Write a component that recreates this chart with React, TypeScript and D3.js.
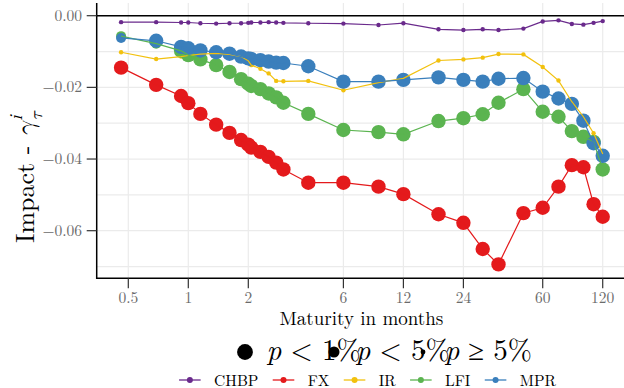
import React from 'react';
import * as d3 from 'd3';

// maturity in months (2w ... 12w, then months)
const maturities = [0.46, 0.69, 0.92, 1, 1.15, 1.38, 1.61, 1.84, 2, 2.07, 2.3, 2.53, 2.76, 3, 4, 6, 9, 12, 18, 24, 30, 36, 48, 60, 72, 84, 96, 108, 120];

const seriesNames = ['CHBP', 'FX', 'IR', 'LFI', 'MPR'];
const seriesColors = ['#6A2A8C', '#E41A1C', '#F2C10E', '#5BB450', '#3A7FBC'];

const chbp = [-0.0018, -0.0018, -0.0019, -0.0019, -0.0021, -0.0022, -0.0021, -0.0021, -0.0020, -0.0019, -0.0019, -0.0018, -0.0019, -0.0020, -0.0021, -0.0022, -0.0026, -0.0021, -0.0038, -0.0040, -0.0038, -0.0040, -0.0036, -0.0016, -0.0013, -0.0023, -0.0025, -0.0020, -0.0015];
const fx = [-0.0145, -0.0193, -0.0224, -0.0244, -0.0274, -0.0304, -0.0327, -0.0347, -0.0360, -0.0368, -0.0380, -0.0394, -0.0410, -0.0429, -0.0466, -0.0466, -0.0477, -0.0498, -0.0554, -0.0578, -0.0651, -0.0694, -0.0551, -0.0536, -0.0477, -0.0417, -0.0423, -0.0526, -0.0561];
const ir = [-0.0102, -0.0121, -0.0114, -0.0111, -0.0107, -0.0105, -0.0108, -0.0114, -0.0126, -0.0138, -0.0148, -0.0161, -0.0182, -0.0183, -0.0182, -0.0208, -0.0187, -0.0175, -0.0125, -0.0122, -0.0117, -0.0107, -0.0108, -0.0143, -0.0181, -0.0240, -0.0282, -0.0328, -0.0386];
const lfi = [-0.0057, -0.0078, -0.0098, -0.0110, -0.0122, -0.0138, -0.0157, -0.0177, -0.0190, -0.0196, -0.0205, -0.0217, -0.0228, -0.0243, -0.0274, -0.0319, -0.0325, -0.0331, -0.0294, -0.0286, -0.0275, -0.0243, -0.0205, -0.0268, -0.0282, -0.0322, -0.0338, -0.0352, -0.0429];
const mpr = [-0.0062, -0.0070, -0.0087, -0.0091, -0.0097, -0.0102, -0.0106, -0.0114, -0.0119, -0.0121, -0.0124, -0.0128, -0.0131, -0.0132, -0.0141, -0.0184, -0.0184, -0.0179, -0.0172, -0.0179, -0.0184, -0.0176, -0.0174, -0.0212, -0.0231, -0.0246, -0.0293, -0.0356, -0.0391];

// significance: '1' = p<1%, '5' = p<5%, 'n' = p>=5%
const sigChbp = 'nnnnnnnnnnnnnnnnnnnnnnnnnnnnn'.split('');
const sigFx = '11111111111111111111111111111'.split('');
const sigIr = 'nnnnnnnnnnnnnnnnnnnnnnnnnnnnn'.split('');
const sigLfi = '55111111111111111111111111111'.split('');
const sigMpr = '51111111111111111111111111111'.split('');

const xTicks = [0.5, 1, 2, 6, 12, 24, 60, 120];
const yTicks = [0, -0.02, -0.04, -0.06];
const yMinor = [-0.01, -0.03, -0.05, -0.07];

const sigLevels = ['1', '5', 'n'];
const sigRel = ['<', '<', '\u2265'];
const sigPct = ['1%', '5%', '5%'];

const FONT = "'Latin Modern Roman', 'Liberation Serif', serif";
const MATH = "'Latin Modern Math', 'Latin Modern Roman', 'Liberation Serif', serif";

function textWidth(txt: string, size: number) {
  const c = document.createElement('canvas').getContext('2d');
  if (!c) return txt.length * size * 0.6;
  c.font = `${size}px ${FONT}`;
  return c.measureText(txt).width;
}

export default function App() {
  const panel = { left: 96.7, right: 626, top: 3, bottom: 278.3 };

  const x = d3.scaleLog().base(2).domain([0.5, 120]).range([128.3, 188.3 + 60 * Math.log2(120)]);
  const y = d3.scaleLinear().domain([0, -0.06]).range([15.7, 230.7]);
  const r = d3.scaleOrdinal<string, number>().domain(sigLevels).range([7.2, 5, 2.2]);

  const values = [chbp, fx, ir, lfi, mpr];
  const sigs = [sigChbp, sigFx, sigIr, sigLfi, sigMpr];
  const series = seriesNames.map((name, i) => ({
    name,
    color: seriesColors[i],
    points: maturities.map((m, j) => ({ m, v: values[i][j], s: sigs[i][j] })),
  }));

  const line = d3.line<{ m: number; v: number }>()
    .x(d => x(d.m))
    .y(d => y(d.v));

  const fmtY = d3.format('.2f');

  // series legend layout
  const legSize = 15.5;
  let cursor = 0;
  const legItems = series.map(s => {
    const item = { s, x0: cursor };
    cursor += 35 + textWidth(s.name, legSize) + 14.3;
    return item;
  });
  const legTotal = cursor - 14.3;
  const legLeft = 367.5 - legTotal / 2;

  return (
    <svg width={624} height={388} style={{ position: 'absolute', left: 0, top: 0, display: 'block', background: '#fff' }}>
      <g stroke="#EBEBEB" strokeWidth={1.2}>
        {yMinor.concat(yTicks).map(v => (
          <line key={'h' + v} x1={panel.left} x2={panel.right} y1={y(v)} y2={y(v)} />
        ))}
        {xTicks.map(t => (
          <line key={'v' + t} x1={x(t)} x2={x(t)} y1={panel.top} y2={panel.bottom} />
        ))}
      </g>

      <line x1={panel.left} x2={panel.right} y1={y(0)} y2={y(0)} stroke="#000" strokeWidth={1.6} />

      {series.map(s => (
        <g key={'p' + s.name} fill={s.color}>
          {s.points.map((d, j) => (
            <circle key={j} cx={x(d.m)} cy={y(d.v)} r={r(d.s)} />
          ))}
        </g>
      ))}
      {series.map(s => (
        <path key={'l' + s.name} d={line(s.points) || ''} fill="none" stroke={s.color} strokeWidth={1.2} />
      ))}

      <line x1={panel.left} x2={panel.left} y1={panel.top} y2={panel.bottom + 0.7} stroke="#000" strokeWidth={1.5} />
      <line x1={panel.left} x2={panel.right} y1={panel.bottom} y2={panel.bottom} stroke="#000" strokeWidth={1.5} />

      <g stroke="#333" strokeWidth={1.2}>
        {xTicks.map(t => (
          <line key={t} x1={x(t)} x2={x(t)} y1={panel.bottom} y2={panel.bottom + 10} />
        ))}
        {yTicks.map(v => (
          <line key={v} x1={panel.left - 10} x2={panel.left} y1={y(v)} y2={y(v)} />
        ))}
      </g>

      <g style={{ fontFamily: FONT, fontSize: '15.5px' }} fill="#6b6b6b">
        {xTicks.map(t => (
          <text key={t} x={x(t)} y={303} textAnchor="middle">{String(t)}</text>
        ))}
        {yTicks.map(v => (
          <text key={v} x={82} y={y(v) + 5} textAnchor="end">{fmtY(v)}</text>
        ))}
      </g>

      <text x={(panel.left + panel.right) / 2} y={324.5} textAnchor="middle" style={{ fontFamily: FONT, fontSize: '19px' }} fill="#000">
        Maturity in months
      </text>

      <text transform="translate(33.5,243) rotate(-90)" style={{ fontFamily: FONT, fontSize: '26px', whiteSpace: 'pre' }} fill="#000">
        <tspan>{'Impact - '}</tspan>
        <tspan style={{ fontFamily: MATH, fontStyle: 'italic' }}>{'\u03b3'}</tspan>
        <tspan style={{ fontFamily: MATH, fontStyle: 'italic', fontSize: '18px' }} dx={1} dy={-12}>i</tspan>
        <tspan style={{ fontFamily: MATH, fontStyle: 'italic', fontSize: '18px' }} dx={-5} dy={20}>{'\u03c4'}</tspan>
      </text>

      {sigLevels.map((lvl, i) => {
        const cx = 245 + i * 89;
        return (
          <g key={lvl}>
            <circle cx={cx} cy={352} r={r(lvl) * 1.1} fill="#000" />
            <text x={cx + 21.5} y={360} style={{ fontFamily: FONT, fontSize: '29px', whiteSpace: 'pre' }} fill="#000">
              <tspan style={{ fontStyle: 'italic' }}>p</tspan>
              <tspan dx={9}>{sigRel[i]}</tspan>
              <tspan dx={9}>{sigPct[i]}</tspan>
            </text>
          </g>
        );
      })}

      <g transform={`translate(${legLeft},0)`}>
        {legItems.map(({ s, x0 }) => (
          <g key={s.name} transform={`translate(${x0},0)`}>
            <line x1={0} x2={21.6} y1={380} y2={380} stroke={s.color} strokeWidth={1.3} />
            <circle cx={10.8} cy={380} r={3} fill={s.color} />
            <text x={35} y={385.5} style={{ fontFamily: FONT, fontSize: legSize + 'px' }} fill="#000">{s.name}</text>
          </g>
        ))}
      </g>
    </svg>
  );
}
